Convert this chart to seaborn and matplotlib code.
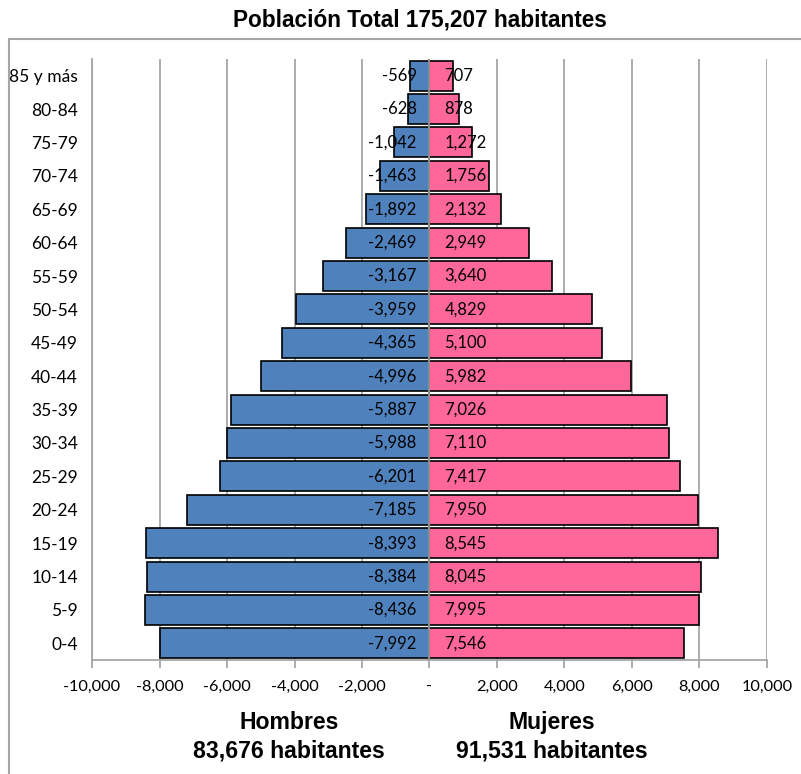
import numpy as np
import pandas as pd
import matplotlib
matplotlib.use("Agg")
import matplotlib.pyplot as plt
import seaborn as sns
from matplotlib.lines import Line2D

groups = ["85 y más", "80-84", "75-79", "70-74", "65-69", "60-64", "55-59", "50-54",
          "45-49", "40-44", "35-39", "30-34", "25-29", "20-24", "15-19", "10-14", "5-9", "0-4"]
hombres = [-569, -628, -1042, -1463, -1892, -2469, -3167, -3959, -4365, -4996,
           -5887, -5988, -6201, -7185, -8393, -8384, -8436, -7992]
mujeres = [707, 878, 1272, 1756, 2132, 2949, 3640, 4829, 5100, 5982,
           7026, 7110, 7417, 7950, 8545, 8045, 7995, 7546]
xticks = [-10000, -8000, -6000, -4000, -2000, 0, 2000, 4000, 6000, 8000, 10000]

df = pd.DataFrame({"grupo": groups * 2,
                   "valor": hombres + mujeres,
                   "sexo": ["Hombres"] * len(groups) + ["Mujeres"] * len(groups)})

sns.set_style("white")
plt.rcParams["font.family"] = ["Lato", "DejaVu Sans"]
plt.rcParams["text.color"] = "black"
plt.rcParams["xtick.color"] = "black"
plt.rcParams["ytick.color"] = "black"

fig = plt.figure(figsize=(8.01, 7.74), dpi=100)
ax = fig.add_axes([92 / 801, 1 - 660 / 774, 675 / 801, 601 / 774])

for t in xticks:
    ax.axvline(t, color="#a6a6a6", lw=1.3, zorder=0)

sns.barplot(data=df, x="valor", y="grupo", hue="sexo", order=groups,
            palette={"Hombres": "#4f81bd", "Mujeres": "#ff6699"}, saturation=1,
            dodge=False, width=0.9, edgecolor="black", linewidth=1.2,
            legend=False, ax=ax, zorder=2)
ax.axvline(0, color="#8c8c8c", lw=1.5, zorder=3)

for i, (h, m) in enumerate(zip(hombres, mujeres)):
    ax.text(-380, i, f"{h:,}", ha="right", va="center", fontsize=12, zorder=4)
    ax.text(440, i, f"{m:,}", ha="left", va="center", fontsize=12, zorder=4)

ax.set_xlim(-10000, 10000)
ax.set_ylim(len(groups) - 0.5, -0.5)
ax.set_xticks(xticks)
ax.set_xticklabels([f"{t:,}" if t != 0 else "-" for t in xticks], fontsize=11.8)
ax.tick_params(axis="x", direction="out", length=6, color="#a6a6a6", width=1.3, pad=8, bottom=True)
ax.tick_params(axis="y", length=0, labelsize=12.5, pad=10)
ax.set_xlabel("")
ax.set_ylabel("")
for s in ["top", "right"]:
    ax.spines[s].set_visible(False)
for s in ["left", "bottom"]:
    ax.spines[s].set_color("#a6a6a6")
    ax.spines[s].set_linewidth(1.3)

# outer frame
fig.add_artist(Line2D([9 / 801, 1], [1 - 39 / 774] * 2, color="#a6a6a6", lw=1.5, transform=fig.transFigure))
fig.add_artist(Line2D([9 / 801] * 2, [0, 1 - 39 / 774], color="#a6a6a6", lw=1.5, transform=fig.transFigure))

fig.text(420 / 801, 1 - 20 / 774, "Población Total 175,207 habitantes", ha="center", va="center",
         fontsize=16.3, fontweight="bold", family="Liberation Sans")
fig.text(289 / 801, 1 - 737 / 774, "Hombres\n83,676 habitantes", ha="center", va="center",
         fontsize=16.6, fontweight="bold", family="Liberation Sans", linespacing=1.3)
fig.text(552 / 801, 1 - 737 / 774, "Mujeres\n91,531 habitantes", ha="center", va="center",
         fontsize=16.6, fontweight="bold", family="Liberation Sans", linespacing=1.3)

fig.savefig("out.png", dpi=100, facecolor="white")
